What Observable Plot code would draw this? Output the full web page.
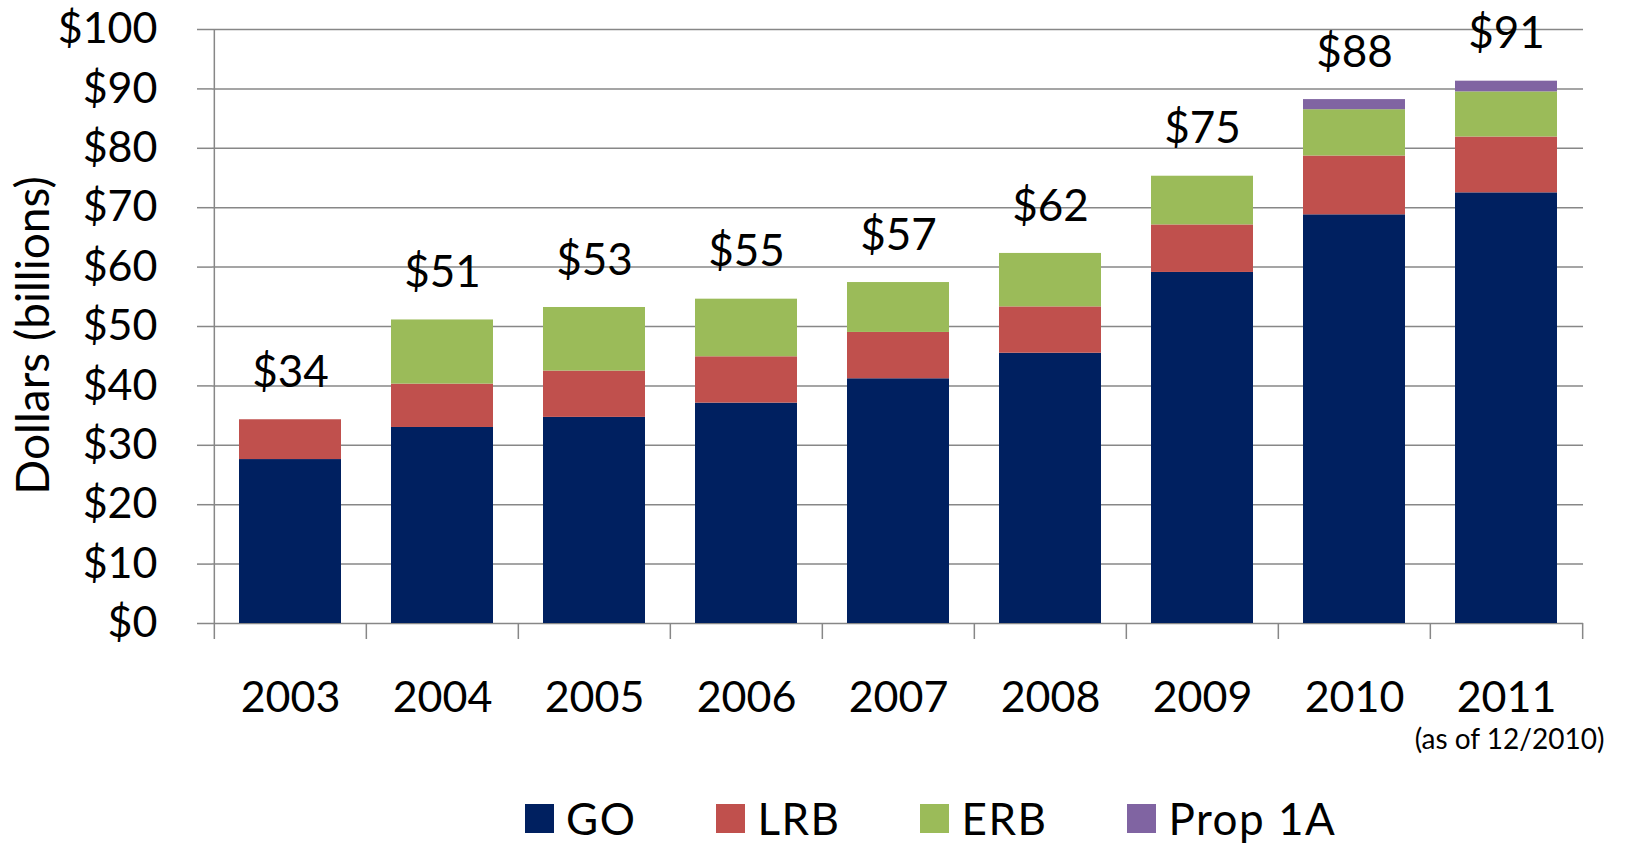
<!DOCTYPE html>
<html><head><meta charset="utf-8">
<script src="https://cdn.jsdelivr.net/npm/d3@7"></script>
<script src="https://cdn.jsdelivr.net/npm/@observablehq/plot@0.6"></script>
<style>
body{margin:0;background:#fff;font-family:Lato,"Liberation Sans",sans-serif;}
#wrap{position:relative;width:1625px;height:845px;}
#legend{position:absolute;left:525px;top:792px;display:flex;align-items:center;font-size:44px;line-height:normal;letter-spacing:1.5px;color:#000}
.item{display:flex;align-items:center;margin-right:80px}
.sw{width:29px;height:29px;margin-right:12px}
</style></head><body><div id="wrap"></div>
<script>
const years = ["2003","2004","2005","2006","2007","2008","2009","2010","2011"];
const seriesNames = ["GO","LRB","ERB","Prop 1A"];
const GO   = [27.6, 33.0, 34.7, 37.1, 41.2, 45.5, 59.1, 68.8, 72.5];
const LRB  = [6.7, 7.3, 7.8, 7.8, 7.8, 7.8, 8.0, 9.9, 9.4];
const ERB  = [0, 10.8, 10.7, 9.7, 8.4, 9.0, 8.2, 7.8, 7.6];
const PROP = [0, 0, 0, 0, 0, 0, 0, 1.7, 1.8];
const totalLabels = ["$34","$51","$53","$55","$57","$62","$75","$88","$91"];
const yTicks = [0,10,20,30,40,50,60,70,80,90,100];
const yTitle = "Dollars (billions)";
const noteYear = "2011";
const noteText = "(as of 12/2010)";
const colors = ["#002060","#C0504D","#9BBB59","#8064A2"];

const seriesValues = [GO, LRB, ERB, PROP];
const rows = [];
seriesNames.forEach((s, k) => years.forEach((y, i) => rows.push({year: y, series: s, value: seriesValues[k][i]})));
const totals = years.map((y, i) => ({year: y, total: GO[i] + LRB[i] + ERB[i] + PROP[i], label: totalLabels[i]}));

const W = 1625, H = 770, ML = 212, MR = 42, MT = 29, MB = 147;
const step = (W - ML - MR) / years.length;
const gray = "#878787";

const chart = Plot.plot({
  width: W, height: H,
  marginLeft: ML, marginRight: MR, marginTop: MT, marginBottom: MB,
  style: {fontFamily: "Lato, 'Liberation Sans', sans-serif", color: "#000", background: "#fff"},
  x: {domain: years, padding: 0},
  y: {domain: [0, 100]},
  color: {domain: seriesNames, range: colors},
  marks: [
    Plot.gridY(yTicks, {stroke: gray, strokeOpacity: 1, strokeWidth: 1.5}),
    Plot.axisY(yTicks, {tickSize: 15, tickPadding: 40, tickFormat: d => "$" + d, fontSize: 43, stroke: gray, strokeWidth: 1.5, fill: "#000", label: null}),
    Plot.ruleX(years.slice(0, 1), {x: d => d, dx: -step / 2, stroke: gray, strokeWidth: 1.5, insetBottom: -16}),
    Plot.ruleX(years.slice(1), {x: d => d, dx: -step / 2, y1: 0, stroke: gray, strokeWidth: 1.5, insetBottom: -16}),
    Plot.ruleX(years.slice(-1), {x: d => d, dx: step / 2, y1: 0, stroke: gray, strokeWidth: 1.5, insetBottom: -16}),
    Plot.barY(rows, {x: "year", y: "value", fill: "series", insetLeft: 25, insetRight: 25}),
    Plot.axisX({tickSize: 0, tickPadding: 58, fontSize: 43, fill: "#000", label: null}),
    Plot.text(totals, {x: "year", y: "total", text: "label", dy: -47, fontSize: 44, fill: "#000"}),
    Plot.text([{year: noteYear, text: noteText}], {x: "year", y: () => 0, text: "text", dy: 117, dx: 3, fontSize: 28, fill: "#000"}),
    Plot.text([yTitle], {frameAnchor: "left", textAnchor: "middle", text: d => d, rotate: -90, dx: -178, dy: 9, fontSize: 46, fill: "#000"})
  ]
});
const wrap = document.getElementById("wrap");
wrap.appendChild(chart);

const legend = document.createElement("div");
legend.id = "legend";
seriesNames.forEach((s, k) => {
  const it = document.createElement("div"); it.className = "item";
  const sw = document.createElement("div"); sw.className = "sw"; sw.style.background = colors[k];
  const tx = document.createElement("span"); tx.textContent = s;
  it.appendChild(sw); it.appendChild(tx); legend.appendChild(it);
});
wrap.appendChild(legend);
</script></body></html>
